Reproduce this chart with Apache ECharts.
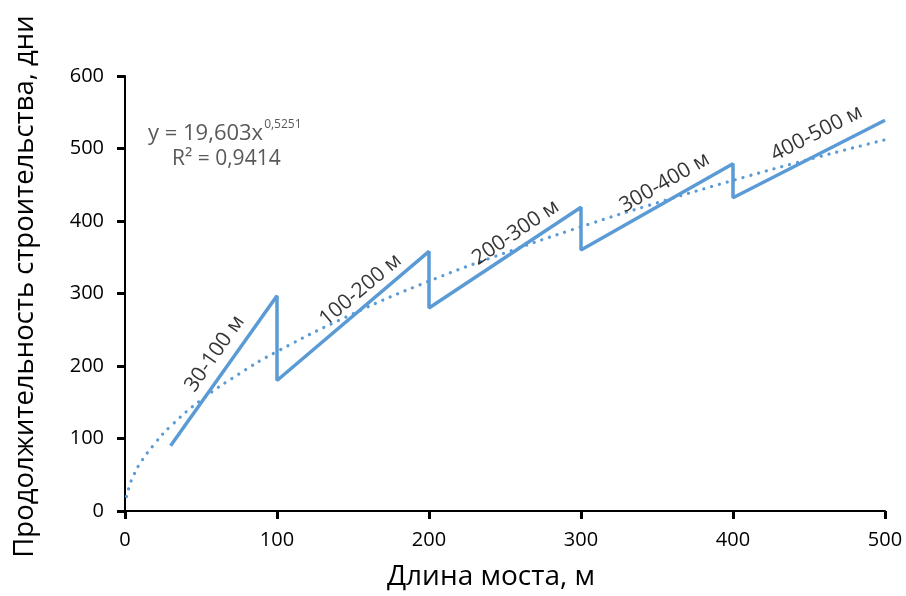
<!DOCTYPE html>
<html><head><meta charset="utf-8">
<script src="https://cdn.jsdelivr.net/npm/echarts@6/dist/echarts.min.js"></script>
<style>html,body{margin:0;padding:0;background:#fff}#c{width:906px;height:596px}</style>
</head><body><div id="c"></div>
<script>
// Solid piecewise line (length m, days)
const lineX = [30, 100, 100, 200, 200, 300, 300, 400, 400, 500];
const lineY = [90, 297, 180, 358, 280, 419, 360, 479, 432, 539];
// Power trend line
const trendX = [1, 3, 5, 10, 20, 30, 50, 75, 100, 150, 200, 250, 300, 350, 400, 450, 500];
const trendY = [20, 35, 46, 66, 94, 117, 153, 189, 220, 272, 317, 356, 392, 425, 456, 485, 512];
// Segment labels
const segNames = ['30-100 м', '100-200 м', '200-300 м', '300-400 м', '400-500 м'];
const segX = [59, 155, 257, 355, 455];
const segY = [217, 305, 384, 453, 521];
const segRot = [55, 40, 34, 30, 27];
const xTicks = [0, 100, 200, 300, 400, 500];
const yTicks = [0, 100, 200, 300, 400, 500, 600];

const FONT = '"Open Sans", "Liberation Sans", sans-serif';
const chart = echarts.init(document.getElementById('c'));
chart.setOption({
  animation: false,
  grid: {left: 125, right: 21, top: 76, bottom: 84},
  xAxis: {
    type: 'value', min: xTicks[0], max: xTicks[xTicks.length-1], interval: 100,
    name: 'Длина моста, м', nameLocation: 'middle', nameGap: 52,
    nameTextStyle: {fontSize: 28, color: '#000', fontFamily: FONT, padding: [0, 28, 0, 0]},
    axisLine: {lineStyle: {color: '#000', width: 2}},
    axisTick: {show: true, length: 8, lineStyle: {color: '#000', width: 3}},
    axisLabel: {fontSize: 20, color: '#000', fontFamily: FONT, margin: 19},
    splitLine: {show: false}
  },
  yAxis: {
    type: 'value', min: yTicks[0], max: yTicks[yTicks.length-1], interval: 100,
    name: 'Продолжительность строительства, дни', nameLocation: 'middle', nameGap: 86,
    nameTextStyle: {fontSize: 27.5, color: '#000', fontFamily: FONT, padding: [0, 0, 0, 14]},
    axisLine: {show: true, lineStyle: {color: '#000', width: 2}},
    axisTick: {show: true, length: 8, lineStyle: {color: '#000', width: 3}},
    axisLabel: {fontSize: 20, color: '#000', fontFamily: FONT, margin: 21},
    splitLine: {show: false}
  },
  series: [
    {
      type: 'line', data: trendX.map((x, i) => [x, trendY[i]]), smooth: true, symbol: 'none',
      lineStyle: {color: '#5B9BD5', width: 3.2, type: [0.1, 8], cap: 'round'}, z: 2
    },
    {
      type: 'line', data: lineX.map((x, i) => [x, lineY[i]]), symbol: 'none',
      lineStyle: {color: '#5B9BD5', width: 3.5}, z: 3
    },
    {
      type: 'scatter', symbolSize: 0, z: 4,
      data: segNames.map((n, i) => ({
        name: n, value: [segX[i], segY[i]],
        label: {show: true, position: 'inside', formatter: n, rotate: segRot[i],
          fontSize: 21, color: '#000', fontFamily: FONT}
      }))
    }
  ],
  graphic: [
    {type: 'text', x: 148, y: 119, style: {
      text: '{a|y = 19,603x}{b|0,5251}', fill: '#595959', fontFamily: FONT,
      rich: {
        a: {fontSize: 22, fill: '#595959', fontFamily: FONT, lineHeight: 26, verticalAlign: 'bottom'},
        b: {fontSize: 12, fill: '#595959', fontFamily: FONT, lineHeight: 14, verticalAlign: 'top', padding: [0, 0, 0, 1]}
      }
    }},
    {type: 'text', x: 172, y: 159, style: {text: 'R² = 0,9414', fontSize: 21, fill: '#595959', fontFamily: FONT, verticalAlign: 'middle'}}
  ]
});
</script></body></html>
